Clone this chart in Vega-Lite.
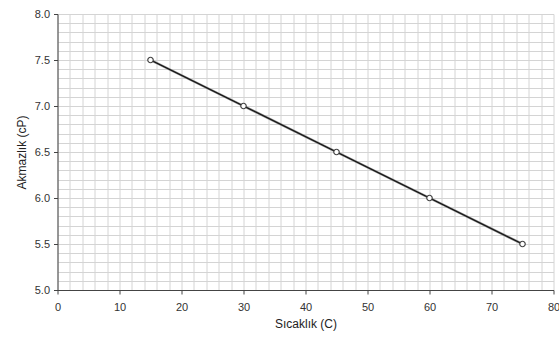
{
  "$schema": "https://vega.github.io/schema/vega-lite/v6.json",
  "width": 496,
  "height": 276,
  "autosize": "none",
  "padding": {"left": 57.5, "top": 14, "right": 5.5, "bottom": 51},
  "background": "white",
  "config": {
    "view": {"stroke": null},
    "font": "Liberation Sans",
    "axis": {
      "labelFont": "Liberation Sans",
      "titleFont": "Liberation Sans",
      "labelFontSize": 11,
      "titleFontSize": 12,
      "titleFontWeight": "normal",
      "labelColor": "#333333",
      "titleColor": "#222222",
      "domainColor": "#444444",
      "tickColor": "#444444",
      "gridColor": "#d4d4d4",
      "gridOpacity": 1,
      "gridWidth": 1
    }
  },
  "data": {
    "values": [
      {"temp": 15, "visc": 7.5},
      {"temp": 30, "visc": 7.0},
      {"temp": 45, "visc": 6.5},
      {"temp": 60, "visc": 6.0},
      {"temp": 75, "visc": 5.5}
    ]
  },
  "encoding": {
    "x": {
      "field": "temp",
      "type": "quantitative",
      "scale": {"domain": [0, 80], "nice": false, "zero": false},
      "axis": {
        "title": "Sıcaklık (C)",
        "values": [0,2,4,6,8,10,12,14,16,18,20,22,24,26,28,30,32,34,36,38,40,42,44,46,48,50,52,54,56,58,60,62,64,66,68,70,72,74,76,78,80],
        "labelExpr": "datum.value % 10 === 0 ? datum.label : ''",
        "tickOpacity": {"condition": {"test": "datum.value % 10 === 0", "value": 1}, "value": 0},
        "tickSize": 4,
        "labelPadding": 7,
        "titlePadding": 6,
        "grid": true,
        "labelFlush": false,
        "labelOverlap": false
      }
    },
    "y": {
      "field": "visc",
      "type": "quantitative",
      "scale": {"domain": [5, 8], "nice": false, "zero": false},
      "axis": {
        "title": "Akmazlık (cP)",
        "values": [5.0,5.1,5.2,5.3,5.4,5.5,5.6,5.7,5.8,5.9,6.0,6.1,6.2,6.3,6.4,6.5,6.6,6.7,6.8,6.9,7.0,7.1,7.2,7.3,7.4,7.5,7.6,7.7,7.8,7.9,8.0],
        "format": ".1f",
        "labelExpr": "abs(datum.value*2 - round(datum.value*2)) < 0.001 ? format(datum.value, '.1f') : ''",
        "tickOpacity": {"condition": {"test": "abs(datum.value*2 - round(datum.value*2)) < 0.001", "value": 1}, "value": 0},
        "tickSize": 4,
        "labelPadding": 4,
        "titlePadding": 6,
        "grid": true,
        "labelOverlap": false,
        "labelFlush": false
      }
    }
  },
  "layer": [
    {"mark": {"type": "line", "color": "#888888", "strokeWidth": 2.5}},
    {"mark": {"type": "line", "color": "#111111", "strokeWidth": 1.2}},
    {"mark": {"type": "point", "filled": true, "fill": "white", "stroke": "#444444", "strokeWidth": 1.2, "size": 30, "opacity": 1}}
  ]
}
